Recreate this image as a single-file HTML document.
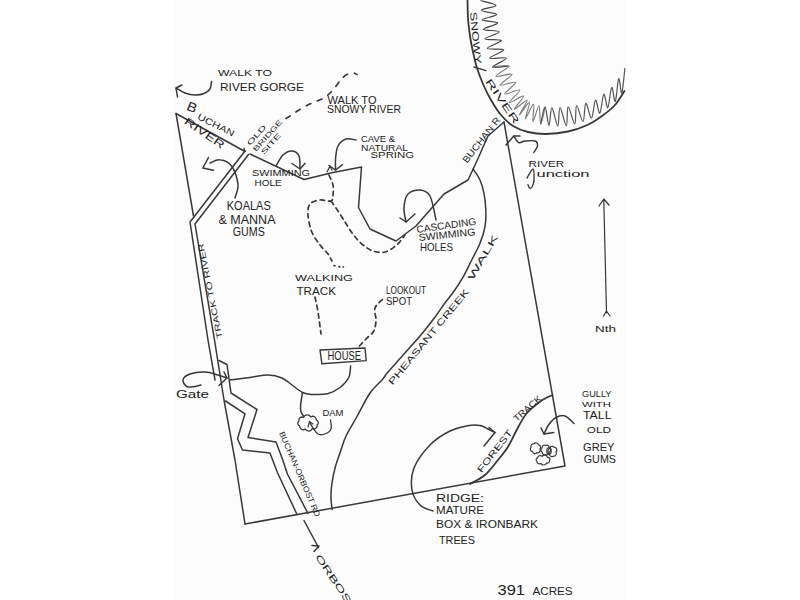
<!DOCTYPE html>
<html><head><meta charset="utf-8"><style>
html,body{margin:0;padding:0;background:#fff;width:800px;height:600px;overflow:hidden}
svg{display:block}
text{font-family:"Liberation Sans",sans-serif}
</style></head><body>
<svg width="800" height="600" viewBox="0 0 800 600">
<rect x="0" y="0" width="800" height="600" fill="#ffffff"/>
<rect x="175" y="0" width="450" height="600" fill="#fcfcfc"/>
<g fill="none" stroke-linecap="round" stroke-linejoin="round">
<path d="M176.0,113.5 L245.0,151.5" stroke="#383838" stroke-width="1.5" />
<path d="M250.0,154.0 L304.0,179.5 L333.0,172.5 L361.5,167.0 L358.5,207.5 L370.0,229.0 L396.0,241.0 L416.0,226.0 L444.0,194.0 L468.0,180.0 L476.0,163.0 L488.0,136.0 L504.0,122.0" stroke="#383838" stroke-width="1.5" />
<path d="M176.0,113.5 L193.5,216.0" stroke="#383838" stroke-width="1.5" />
<path d="M244.0,148.5 L245.0,151.0 L190.0,222.0 L208.0,340.0 L215.0,380.0" stroke="#383838" stroke-width="1.5" />
<path d="M248.5,154.5 L195.0,224.0 L214.5,340.0 L224.0,400.0 L235.0,460.0 L245.0,524.0" stroke="#383838" stroke-width="1.5" />
<path d="M219.0,360.5 L227.0,364.5 L231.0,393.0 L257.0,409.5 L248.0,437.5 L276.0,442.0 L282.8,460.0 L287.4,474.0 L308.0,513.5" stroke="#383838" stroke-width="1.5" />
<path d="M225.5,401.0 L245.0,413.8 L237.5,438.8 L242.5,450.0 L270.0,453.0 L273.0,461.0 L277.5,472.8 L297.0,514.5" stroke="#383838" stroke-width="1.5" />
<path d="M304.0,520.5 L318.5,547.5" stroke="#383838" stroke-width="1.5" />
<path d="M312.0,545.5 L319.0,546.0 L314.0,551.5" stroke="#383838" stroke-width="1.5" />
<path d="M504.0,122.0 L565.0,466.0 L245.0,524.0" stroke="#383838" stroke-width="1.5" />
<path d="M473.0,169.0 C474.2,170.8 478.2,175.9 480.0,180.0 C481.8,184.1 483.0,188.3 484.0,193.3 C485.0,198.3 485.6,204.4 485.8,210.0 C486.0,215.6 486.0,221.1 485.0,226.7 C484.0,232.2 482.2,237.8 480.0,243.3 C477.8,248.9 474.5,254.4 471.7,260.0 C468.9,265.6 466.2,271.5 463.3,276.7 C460.4,281.9 457.1,286.9 454.0,291.3 C450.9,295.7 447.8,299.1 444.7,303.3 C441.6,307.5 439.4,311.2 435.3,316.7 C431.2,322.1 425.2,329.8 420.0,336.0 C414.8,342.2 409.3,348.0 404.0,354.0 C398.7,360.0 391.7,367.7 388.0,372.0 C384.3,376.3 385.0,376.5 382.0,380.0 C379.0,383.5 374.2,386.8 370.0,393.0 C365.8,399.2 360.7,409.8 356.7,417.0 C352.7,424.2 348.6,430.5 346.0,436.0 C343.4,441.5 342.8,444.8 341.0,450.0 C339.2,455.2 336.8,461.7 335.2,467.5 C333.6,473.3 332.4,479.8 331.7,485.0 C331.0,490.2 330.9,494.9 331.0,499.0 C331.1,503.1 332.0,507.8 332.2,509.5" stroke="#383838" stroke-width="1.5" />
<path d="M230.0,380.0 C233.3,379.6 243.7,378.3 250.0,377.5 C256.3,376.7 262.7,374.9 268.0,375.0 C273.3,375.1 278.0,376.3 282.0,378.0 C286.0,379.7 288.6,382.6 292.0,385.0 C295.4,387.4 299.3,390.9 302.5,392.5 C305.7,394.1 306.8,394.2 311.0,394.4 C315.2,394.6 322.7,394.9 327.5,393.8 C332.3,392.6 336.5,390.2 340.0,387.5 C343.5,384.8 347.0,381.1 348.8,377.5 C350.5,373.9 350.3,367.9 350.6,366.0" stroke="#383838" stroke-width="1.5" />
<path d="M302.5,392.5 C302.2,394.6 300.9,401.8 300.6,405.0 C300.4,408.2 300.5,410.2 301.0,412.0 C301.5,413.8 303.1,415.3 303.5,416.0" stroke="#383838" stroke-width="1.5" />
<path d="M317.1,424.9 A3.3,3.3 0 0 1 312.4,428.6 A4.0,4.0 0 0 1 305.2,429.0 A3.5,3.5 0 0 1 299.6,425.9 A2.7,2.7 0 0 1 298.9,421.1 A3.3,3.3 0 0 1 303.6,417.4 A4.0,4.0 0 0 1 310.8,417.0 A3.5,3.5 0 0 1 316.4,420.1 A2.7,2.7 0 0 1 317.1,424.9Z" stroke="#383838" stroke-width="1.3" />
<path d="M330.5,420.0 C330.6,421.5 331.9,426.7 331.0,429.0 C330.1,431.3 327.2,433.2 325.0,434.0 C322.8,434.8 320.0,435.0 318.0,434.0 C316.0,433.0 314.4,430.0 313.0,428.0 C311.6,426.0 310.1,423.0 309.5,422.0" stroke="#383838" stroke-width="1.3" />
<path d="M308.0,427.0 L309.5,421.5 L313.0,424.0" stroke="#383838" stroke-width="1.2" />
<path d="M201.0,385.0 C198.8,385.3 191.0,387.8 188.0,387.0 C185.0,386.2 182.7,382.2 183.0,380.0 C183.3,377.8 186.3,375.3 190.0,374.0 C193.7,372.7 200.3,371.8 205.0,372.0 C209.7,372.2 214.3,374.0 218.0,375.0 C221.7,376.0 225.5,377.5 227.0,378.0" stroke="#383838" stroke-width="1.5" />
<path d="M224.0,372.0 L227.0,378.0 L219.0,385.5" stroke="#383838" stroke-width="1.5" />
<path d="M211.5,81.5 C211.2,82.8 211.2,87.0 210.0,89.0 C208.8,91.0 206.5,92.5 204.0,93.5 C201.5,94.5 198.2,95.1 195.0,95.0 C191.8,94.9 188.2,94.2 185.0,93.0 C181.8,91.8 177.5,88.8 176.0,88.0" stroke="#383838" stroke-width="1.5" />
<path d="M182.0,85.0 L176.0,88.0 L177.5,97.0" stroke="#383838" stroke-width="1.5" />
<path d="M235.0,198.0 C235.5,195.8 238.5,189.8 238.0,184.5 C237.5,179.2 235.0,170.6 232.0,166.5 C229.0,162.4 223.7,160.3 220.0,159.8 C216.3,159.2 211.7,162.5 210.0,163.0" stroke="#383838" stroke-width="1.5" />
<path d="M208.5,157.5 L202.8,168.0 L213.5,170.2" stroke="#383838" stroke-width="1.5" />
<path d="M276.0,166.0 C277.2,164.2 280.3,157.5 283.0,155.0 C285.7,152.5 289.3,150.8 292.0,151.0 C294.7,151.2 297.7,153.0 299.0,156.0 C300.3,159.0 299.8,166.8 300.0,169.0" stroke="#383838" stroke-width="1.5" />
<path d="M292.0,163.5 L300.0,169.0 L305.0,163.5" stroke="#383838" stroke-width="1.5" />
<path d="M356.0,140.0 C354.3,139.8 349.0,138.0 346.0,139.0 C343.0,140.0 339.7,142.8 338.0,146.0 C336.3,149.2 336.0,154.0 335.6,158.0 C335.2,162.0 335.6,168.0 335.6,170.0" stroke="#383838" stroke-width="1.5" />
<path d="M329.0,165.5 L335.6,170.0 L342.4,164.6" stroke="#383838" stroke-width="1.5" />
<path d="M327.0,172.0 L330.0,166.0 L332.0,170.0" stroke="#383838" stroke-width="1.2" />
<path d="M436.0,220.0 C435.0,216.0 432.7,201.0 430.0,196.0 C427.3,191.0 423.7,190.3 420.0,190.0 C416.3,189.7 410.7,191.0 408.0,194.0 C405.3,197.0 404.3,203.3 404.0,208.0 C403.7,212.7 405.7,219.7 406.0,222.0" stroke="#383838" stroke-width="1.5" />
<path d="M400.0,218.0 L406.0,222.0 L415.0,214.0" stroke="#383838" stroke-width="1.5" />
<path d="M533.8,152.5 C534.4,151.4 537.3,147.9 537.5,146.0 C537.7,144.1 537.1,141.8 535.0,141.0 C532.9,140.2 527.7,140.8 525.0,141.0 C522.3,141.2 520.6,143.3 518.8,142.5 C516.9,141.7 514.6,137.1 513.8,136.0" stroke="#383838" stroke-width="1.5" />
<path d="M520.0,136.0 L513.8,136.0 L506.0,145.0" stroke="#383838" stroke-width="1.5" />
<path d="M527.0,178.0 C528.0,176.5 531.8,168.7 533.0,169.0 C534.2,169.3 534.1,177.2 534.0,180.0 C533.9,182.8 533.2,184.6 532.5,186.0 C531.8,187.4 530.8,188.6 530.0,188.4 C529.2,188.2 528.3,185.3 528.0,184.7" stroke="#383838" stroke-width="1.4" />
<path d="M606.5,313.0 L603.8,200.0" stroke="#383838" stroke-width="1.2" />
<path d="M599.0,206.0 L603.8,199.0 L609.0,205.0" stroke="#383838" stroke-width="1.3" />
<path d="M603.5,316.0 L606.5,311.0 L610.0,316.0" stroke="#383838" stroke-width="1.2" />
<path d="M470.0,484.0 C472.5,482.5 480.3,479.0 485.0,475.0 C489.7,471.0 494.2,464.7 498.0,460.0 C501.8,455.3 504.9,451.7 508.0,446.7 C511.1,441.7 513.6,435.6 516.7,430.0 C519.8,424.4 522.8,418.0 526.7,413.3 C530.6,408.6 535.7,404.8 540.0,401.7 C544.3,398.6 550.4,396.1 552.5,395.0" stroke="#383838" stroke-width="1.8" />
<path d="M433.0,511.0 C430.8,510.0 423.5,508.5 420.0,505.0 C416.5,501.5 413.0,496.2 412.0,490.0 C411.0,483.8 411.0,475.5 414.0,468.0 C417.0,460.5 424.0,451.2 430.0,445.0 C436.0,438.8 443.5,434.2 450.0,431.0 C456.5,427.8 464.0,426.4 469.0,425.5 C474.0,424.6 476.8,424.9 480.0,425.5 C483.2,426.1 485.5,427.8 488.0,429.0 C490.5,430.2 493.8,431.9 495.0,432.5" stroke="#383838" stroke-width="1.5" />
<path d="M489.0,427.5 L495.0,432.5 L484.0,446.0" stroke="#383838" stroke-width="1.5" />
<path d="M574.0,423.5 C572.5,422.2 568.0,417.0 565.0,416.0 C562.0,415.0 558.8,416.0 556.0,417.5 C553.2,419.0 550.5,422.2 548.5,425.0 C546.5,427.8 544.8,432.5 544.0,434.0" stroke="#383838" stroke-width="1.5" />
<path d="M541.0,428.0 L544.0,434.0 L553.8,432.5" stroke="#383838" stroke-width="1.5" />
<path d="M539.9,449.2 A2.5,2.5 0 0 1 536.9,452.7 A2.5,2.5 0 0 1 532.5,451.7 A2.5,2.5 0 0 1 531.1,447.4 A2.5,2.5 0 0 1 534.1,443.9 A2.5,2.5 0 0 1 538.5,444.9 A2.5,2.5 0 0 1 539.9,449.2Z" stroke="#383838" stroke-width="1.2" />
<path d="M549.2,452.2 A2.3,2.3 0 0 1 545.8,454.5 A2.3,2.3 0 0 1 542.3,452.3 A2.5,2.5 0 0 1 542.2,447.8 A2.3,2.3 0 0 1 545.6,445.5 A2.3,2.3 0 0 1 549.1,447.7 A2.5,2.5 0 0 1 549.2,452.2Z" stroke="#383838" stroke-width="1.2" />
<path d="M556.0,452.0 A2.8,2.8 0 0 1 553.2,456.2 A2.4,2.4 0 0 1 549.5,453.9 A3.1,3.1 0 0 1 549.9,448.3 A2.3,2.3 0 0 1 553.9,447.1 A2.9,2.9 0 0 1 556.0,452.0Z" stroke="#383838" stroke-width="1.2" />
<path d="M549,447.5 C546,448 546,454 549,454 C552,454 552,447.5 549,447.5Z" stroke="#383838" stroke-width="1.2" />
<path d="M549.5,460.4 A2.2,2.2 0 0 1 546.5,463.0 A3.1,3.1 0 0 1 540.9,463.4 A2.5,2.5 0 0 1 536.9,461.2 A1.7,1.7 0 0 1 537.5,458.1 A2.8,2.8 0 0 1 542.2,456.4 A3.0,3.0 0 0 1 547.5,457.4 A1.9,1.9 0 0 1 549.5,460.4Z" stroke="#383838" stroke-width="1.2" />
<path d="M320.0,350.0 L365.0,348.0 L366.2,360.6 L321.9,363.8 L320.0,350.0" stroke="#383838" stroke-width="1.4" />
<path d="M329.0,175.0 C329.7,176.7 332.3,181.7 333.0,185.0 C333.7,188.3 333.3,192.3 333.0,195.0 C332.7,197.7 333.2,200.2 331.0,201.0 C328.8,201.8 323.5,199.5 320.0,200.0 C316.5,200.5 312.0,201.5 310.0,204.0 C308.0,206.5 307.7,210.4 308.0,215.0 C308.3,219.6 309.7,226.7 311.7,231.7 C313.7,236.7 317.3,241.3 320.0,245.0 C322.7,248.7 326.0,251.3 328.0,254.0 C330.0,256.7 331.3,259.8 332.0,261.0" stroke="#383838" stroke-width="1.7" stroke-dasharray="4.5 4"/>
<path d="M334,265.5 L335,266 M339,266.5 L340,267 M343,267 L343.5,267" stroke="#383838" stroke-width="1.6" />
<path d="M331.0,201.0 C332.2,202.7 335.7,207.5 338.0,211.0 C340.3,214.5 343.0,218.8 345.0,222.0 C347.0,225.2 348.2,227.3 350.0,230.0 C351.8,232.7 353.8,235.5 356.0,238.0 C358.2,240.5 360.2,242.8 363.0,245.0 C365.8,247.2 369.3,249.8 373.0,251.0 C376.7,252.2 381.1,253.0 385.0,252.0 C388.9,251.0 393.4,247.8 396.7,245.0 C400.0,242.2 403.6,236.7 405.0,235.0" stroke="#383838" stroke-width="1.7" stroke-dasharray="4.5 4"/>
<path d="M315.0,297.0 C315.5,299.5 317.0,305.8 318.0,312.0 C319.0,318.2 320.5,330.3 321.0,334.0" stroke="#383838" stroke-width="1.7" stroke-dasharray="4.5 4"/>
<path d="M359.4,346.0 C360.5,344.8 363.6,341.5 366.0,339.0 C368.4,336.5 372.1,334.2 373.8,331.0 C375.4,327.8 375.8,323.8 376.0,320.0 C376.2,316.2 373.7,311.7 375.0,308.0 C376.3,304.3 382.5,299.7 384.0,298.0" stroke="#383838" stroke-width="1.7" stroke-dasharray="4.5 4"/>
<path d="M286.0,118.5 C286.7,118.1 287.8,117.4 290.0,116.0 C292.2,114.6 295.3,112.2 299.0,110.0 C302.7,107.8 307.8,105.0 312.0,103.0 C316.2,101.0 320.7,100.0 324.0,98.0 C327.3,96.0 329.3,93.8 332.0,91.0 C334.7,88.2 337.7,83.7 340.0,81.0 C342.3,78.3 343.8,76.3 346.0,75.0 C348.2,73.7 351.2,73.1 353.0,73.0 C354.8,72.9 356.3,74.2 357.0,74.5" stroke="#383838" stroke-width="1.7" stroke-dasharray="5 7"/>
<path d="M467.5,0.0 C467.6,3.0 467.6,12.0 468.0,18.0 C468.4,24.0 469.2,30.3 470.0,36.0 C470.8,41.7 471.8,46.7 473.0,52.0 C474.2,57.3 475.3,62.7 477.0,68.0 C478.7,73.3 480.7,78.7 483.0,84.0 C485.3,89.3 488.0,94.8 491.0,100.0 C494.0,105.2 497.3,110.7 501.0,115.0 C504.7,119.3 508.5,123.2 513.0,126.0 C517.5,128.8 522.5,130.7 528.0,132.0 C533.5,133.3 539.3,134.1 546.0,134.0 C552.7,133.9 561.1,133.0 568.0,131.5 C574.9,130.0 581.8,127.6 587.5,125.0 C593.2,122.4 597.4,119.3 602.0,116.0 C606.6,112.7 611.2,109.2 615.0,105.0 C618.8,100.8 622.9,93.3 624.5,91.0" stroke="#383838" stroke-width="1.8" />
<path d="M481.0,0.7 C483.5,1.5 495.8,3.8 495.9,5.4 C495.9,7.0 481.3,8.8 481.4,10.3 C481.5,11.8 496.4,12.8 496.6,14.4 C496.7,16.0 482.0,18.4 482.2,19.9 C482.4,21.3 497.5,21.4 497.7,23.0 C498.0,24.6 483.2,27.9 483.4,29.3 C483.7,30.8 499.1,30.2 499.3,31.8 C499.6,33.4 484.7,37.4 485.1,38.8 C485.4,40.3 501.0,38.9 501.4,40.5 C501.7,42.1 486.8,46.9 487.2,48.4 C487.7,50.0 503.4,48.2 503.8,49.8 C504.2,51.4 489.3,56.7 489.7,58.1 C490.1,59.5 505.9,56.6 506.4,58.1 C506.8,59.6 492.1,65.8 492.5,67.1 C492.9,68.4 506.1,66.2 508.8,66.0" stroke="#444" stroke-width="1.2" />
<path d="M492.5,67.1 C495.2,66.9 508.2,64.5 508.8,66.0 C509.4,67.5 495.5,74.9 496.0,76.3 C496.5,77.7 511.3,72.8 512.0,74.3 C512.7,75.8 499.4,83.7 500.0,85.1 C500.6,86.4 514.9,80.9 515.7,82.3 C516.5,83.8 504.1,92.6 504.8,93.9 C505.5,95.2 519.1,88.7 519.8,90.1 C520.6,91.5 508.7,101.5 509.3,102.5 C510.0,103.5 522.8,95.0 523.6,96.1 C524.4,97.3 513.5,108.8 514.1,109.5 C514.7,110.2 526.2,99.4 527.1,100.4 C527.9,101.3 518.9,114.7 519.3,115.0 C519.7,115.3 528.4,101.7 529.4,102.4 C530.4,103.0 524.7,118.5 525.4,118.8 C526.1,119.1 532.3,103.8 533.6,104.2 C534.8,104.7 532.1,121.4 533.0,121.7 C533.9,121.9 537.7,105.5 538.9,105.8 C540.2,106.2 539.7,123.7 540.7,124.0 C541.8,124.2 544.4,110.0 545.1,107.2" stroke="#808080" stroke-width="1.2" />
<path d="M540.7,124.0 C541.5,121.2 543.7,106.9 545.1,107.2 C546.4,107.4 547.8,125.4 548.9,125.5 C550.1,125.5 550.4,107.6 551.9,107.7 C553.3,107.9 556.4,126.1 557.8,126.1 C559.1,126.1 558.6,107.6 560.0,107.6 C561.5,107.6 565.0,126.0 566.3,125.8 C567.7,125.7 566.7,107.1 568.1,106.8 C569.5,106.5 573.4,124.2 574.8,124.0 C576.2,123.8 575.2,105.9 576.6,105.5 C578.0,105.1 581.5,121.9 583.0,121.5 C584.6,121.2 584.4,103.9 585.8,103.4 C587.3,102.8 589.9,118.6 591.5,118.0 C593.1,117.5 594.1,101.0 595.5,100.2 C596.9,99.4 598.4,114.2 599.8,113.2 C601.2,112.2 602.5,95.2 603.8,94.3 C605.2,93.3 606.5,108.7 607.8,107.6 C609.1,106.5 610.4,88.5 611.7,87.4 C612.9,86.4 614.2,102.9 615.3,101.4 C616.5,99.9 617.6,80.1 618.7,78.7 C619.8,77.2 620.8,94.7 621.8,92.9 C622.8,91.2 624.4,72.4 624.9,68.3" stroke="#555" stroke-width="1.2" />
<path d="M474.0,67.0 L486.0,70.6" stroke="#383838" stroke-width="1.4" />
</g>
<g fill="#222" stroke="none">
<text x="218" y="76" font-size="8.5" textLength="54" lengthAdjust="spacingAndGlyphs">WALK TO</text>
<text x="220" y="91" font-size="11.5" textLength="84" lengthAdjust="spacingAndGlyphs">RIVER GORGE</text>
<text x="185.7" y="109.5" font-size="13" textLength="10" lengthAdjust="spacingAndGlyphs" transform="rotate(22 185.7 109.5)">B</text>
<text x="196.8" y="118.8" font-size="9" textLength="40" lengthAdjust="spacingAndGlyphs" transform="rotate(26.6 196.8 118.8)">UCHAN</text>
<text x="183.5" y="123" font-size="10.5" textLength="46" lengthAdjust="spacingAndGlyphs" transform="rotate(34.5 183.5 123)">RIVER</text>
<text x="250" y="146" font-size="7" textLength="25" lengthAdjust="spacingAndGlyphs" transform="rotate(-48 250 146)">OLD</text>
<text x="256" y="152" font-size="7" textLength="40" lengthAdjust="spacingAndGlyphs" transform="rotate(-48 256 152)">BRIDGE</text>
<text x="264" y="155" font-size="7" textLength="26" lengthAdjust="spacingAndGlyphs" transform="rotate(-48 264 155)">SITE</text>
<text x="327.5" y="103.5" font-size="10.5" textLength="49" lengthAdjust="spacingAndGlyphs">WALK TO</text>
<text x="327" y="113" font-size="11" textLength="74" lengthAdjust="spacingAndGlyphs">SNOWY RIVER</text>
<text x="361" y="141.5" font-size="9" textLength="34" lengthAdjust="spacingAndGlyphs">CAVE &amp;</text>
<text x="361" y="150.5" font-size="9" textLength="47" lengthAdjust="spacingAndGlyphs">NATURAL</text>
<text x="370.5" y="157.5" font-size="9" textLength="43.5" lengthAdjust="spacingAndGlyphs">SPRING</text>
<text x="252" y="175.5" font-size="9" textLength="58" lengthAdjust="spacingAndGlyphs">SWIMMING</text>
<text x="254.6" y="185.5" font-size="9" textLength="27" lengthAdjust="spacingAndGlyphs">HOLE</text>
<text x="226.75" y="210" font-size="12" textLength="44" lengthAdjust="spacingAndGlyphs">KOALAS</text>
<text x="218.5" y="223.5" font-size="12.5" textLength="57" lengthAdjust="spacingAndGlyphs">&amp; MANNA</text>
<text x="232.75" y="235.5" font-size="12" textLength="32" lengthAdjust="spacingAndGlyphs">GUMS</text>
<text x="417" y="233" font-size="10" textLength="60" lengthAdjust="spacingAndGlyphs" transform="rotate(-8 417 233)">CASCADING</text>
<text x="419" y="241" font-size="10" textLength="57" lengthAdjust="spacingAndGlyphs" transform="rotate(-6 419 241)">SWIMMING</text>
<text x="420" y="251" font-size="11" textLength="33" lengthAdjust="spacingAndGlyphs">HOLES</text>
<text x="295" y="281" font-size="9" textLength="58" lengthAdjust="spacingAndGlyphs">WALKING</text>
<text x="296.5" y="294.5" font-size="10" textLength="39.5" lengthAdjust="spacingAndGlyphs">TRACK</text>
<text x="386" y="294" font-size="11" textLength="40" lengthAdjust="spacingAndGlyphs">LOOKOUT</text>
<text x="386" y="305" font-size="11" textLength="26" lengthAdjust="spacingAndGlyphs">SPOT</text>
<text x="327.5" y="360" font-size="12" textLength="33.5" lengthAdjust="spacingAndGlyphs">HOUSE</text>
<text x="322.5" y="415.5" font-size="9.5" textLength="21" lengthAdjust="spacingAndGlyphs">DAM</text>
<text x="176" y="397.5" font-size="11" textLength="33" lengthAdjust="spacingAndGlyphs">Gate</text>
<text x="222.5" y="338" font-size="8" textLength="97" lengthAdjust="spacingAndGlyphs" transform="rotate(-101.5 222.5 338)">TRACK TO RIVER</text>
<text x="279" y="433" font-size="8" textLength="92" lengthAdjust="spacingAndGlyphs" transform="rotate(66.6 279 433)">BUCHAN-ORBOST RD</text>
<text x="315" y="557" font-size="9" textLength="66" lengthAdjust="spacingAndGlyphs" transform="rotate(56 315 557)">ORBOST</text>
<text x="467" y="163.7" font-size="9.5" textLength="55" lengthAdjust="spacingAndGlyphs" transform="rotate(-52 467 163.7)">BUCHAN R</text>
<text x="470" y="12.3" font-size="9.5" textLength="52" lengthAdjust="spacingAndGlyphs" transform="rotate(84.8 470 12.3)">SNOWY</text>
<text x="485.1" y="81.6" font-size="9.5" textLength="52" lengthAdjust="spacingAndGlyphs" transform="rotate(55.7 485.1 81.6)">RIVER</text>
<text x="392.5" y="385.5" font-size="9" textLength="121" lengthAdjust="spacingAndGlyphs" transform="rotate(-50.5 392.5 385.5)">PHEASANT CREEK</text>
<text x="472.7" y="281" font-size="9" textLength="51" lengthAdjust="spacingAndGlyphs" transform="rotate(-59.9 472.7 281)">WALK</text>
<text x="528.6" y="167" font-size="8.5" textLength="35.5" lengthAdjust="spacingAndGlyphs">RIVER</text>
<text x="536.5" y="177" font-size="9.5" textLength="53" lengthAdjust="spacingAndGlyphs">unction</text>
<text x="595" y="332" font-size="9" textLength="21" lengthAdjust="spacingAndGlyphs">Nth</text>
<text x="481.4" y="473.2" font-size="9" textLength="51.5" lengthAdjust="spacingAndGlyphs" transform="rotate(-52 481.4 473.2)">FOREST</text>
<text x="516.8" y="422.1" font-size="9" textLength="34" lengthAdjust="spacingAndGlyphs" transform="rotate(-41.6 516.8 422.1)">TRACK</text>
<text x="582" y="396.5" font-size="9.5" textLength="29.5" lengthAdjust="spacingAndGlyphs">GULLY</text>
<text x="582" y="407" font-size="8" textLength="29" lengthAdjust="spacingAndGlyphs">WITH</text>
<text x="583" y="419" font-size="11" textLength="28.5" lengthAdjust="spacingAndGlyphs">TALL</text>
<text x="586.75" y="433" font-size="9" textLength="24.25" lengthAdjust="spacingAndGlyphs">OLD</text>
<text x="583" y="450.5" font-size="11" textLength="31.5" lengthAdjust="spacingAndGlyphs">GREY</text>
<text x="583.75" y="463" font-size="11" textLength="32.25" lengthAdjust="spacingAndGlyphs">GUMS</text>
<text x="436" y="502" font-size="10" textLength="48" lengthAdjust="spacingAndGlyphs">RIDGE:</text>
<text x="436" y="514" font-size="10" textLength="48" lengthAdjust="spacingAndGlyphs">MATURE</text>
<text x="436" y="527.5" font-size="11" textLength="102" lengthAdjust="spacingAndGlyphs">BOX &amp; IRONBARK</text>
<text x="439" y="544" font-size="11" textLength="36" lengthAdjust="spacingAndGlyphs">TREES</text>
<text x="497.5" y="595" font-size="15" textLength="27.5" lengthAdjust="spacingAndGlyphs">391</text>
<text x="532.5" y="595" font-size="10" textLength="40" lengthAdjust="spacingAndGlyphs">ACRES</text>
</g>
</svg>
</body></html>
